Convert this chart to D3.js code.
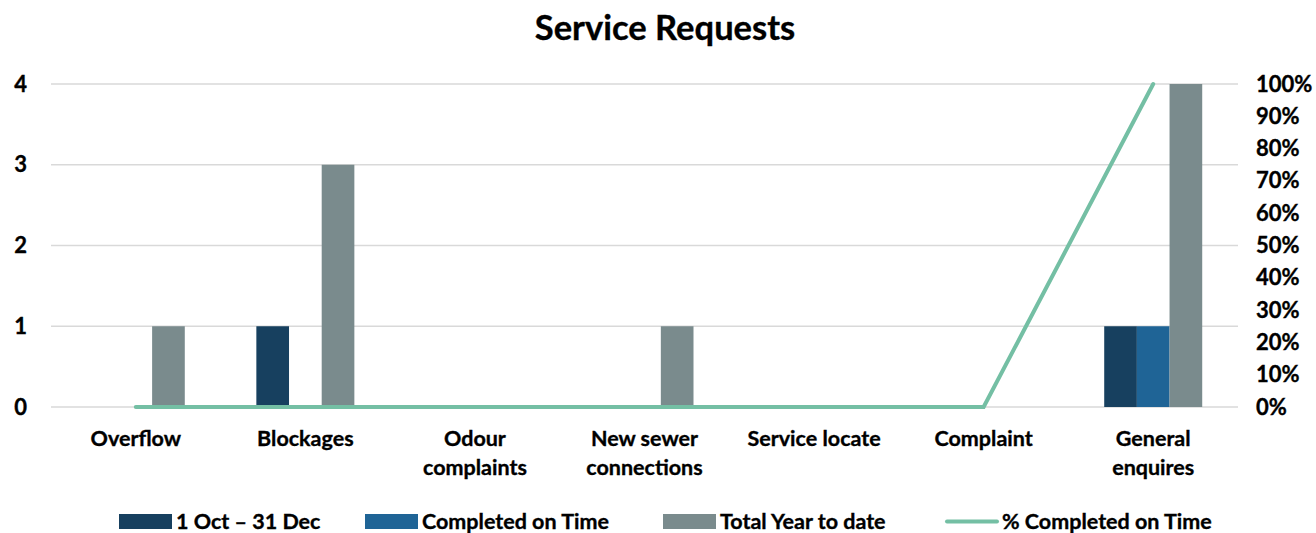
<!DOCTYPE html>
<html>
<head>
<meta charset="utf-8">
<script src="https://cdn.jsdelivr.net/npm/d3@7"></script>
<style>
  html, body { margin: 0; padding: 0; background: #fff; }
  svg { display: block; font-family: Lato, "Open Sans", sans-serif; font-weight: bold; }
  svg text { stroke: #000; stroke-width: 0.35px; }
</style>
</head>
<body>
<svg id="chart" width="1316" height="533"></svg>
<script>
// Service request categories (label lines)
const categories = [
  ["Overflow"],
  ["Blockages"],
  ["Odour", "complaints"],
  ["New sewer", "connections"],
  ["Service locate"],
  ["Complaint"],
  ["General", "enquires"]
];
const seriesNames = ["1 Oct \u2013 31 Dec", "Completed on Time", "Total Year to date", "% Completed on Time"];
const periodValues = [0, 1, 0, 0, 0, 0, 1];
const completedValues = [0, 0, 0, 0, 0, 0, 1];
const totalValues = [1, 3, 0, 1, 0, 0, 4];
const pctCompleted = [0, 0, 0, 0, 0, 0, 1];
const leftTicks = [0, 1, 2, 3, 4];
const rightTicks = [0, 0.1, 0.2, 0.3, 0.4, 0.5, 0.6, 0.7, 0.8, 0.9, 1];

const colors = ["#17405f", "#1f6496", "#7a8b8d", "#74bfa4"];

const svg = d3.select("#chart");
const plotLeft = 51, plotRight = 1238, plotTop = 84, plotBottom = 407;

const x = d3.scaleBand().domain(d3.range(categories.length)).range([plotLeft, plotRight]).paddingInner(0).paddingOuter(0);
const inner = d3.scaleBand().domain([0, 1, 2]).range([0, 98]);
const yL = d3.scaleLinear().domain([0, 4]).range([plotBottom, plotTop]);
const yR = d3.scaleLinear().domain([0, 1]).range([plotBottom, plotTop]);

// title
svg.append("text").attr("x", 665).attr("y", 40).attr("text-anchor", "middle")
  .attr("font-size", 34.5).attr("fill", "#000").text("Service Requests");

// gridlines
svg.append("g").selectAll("line").data(leftTicks).join("line")
  .attr("x1", plotLeft).attr("x2", plotRight)
  .attr("y1", d => yL(d)).attr("y2", d => yL(d))
  .attr("stroke", "#d9d9d9").attr("stroke-width", 1.3);

// left axis
const axL = svg.append("g").attr("transform", `translate(${plotLeft},0)`)
  .call(d3.axisLeft(yL).tickValues(leftTicks).tickFormat(d3.format("d")).tickSize(0).tickPadding(24));
axL.select(".domain").remove();
axL.selectAll("text").attr("font-size", 22).attr("font-family", "Lato, sans-serif").attr("font-weight", "bold").attr("fill", "#000");

// right axis
const axR = svg.append("g").attr("transform", `translate(${plotRight},0)`)
  .call(d3.axisRight(yR).tickValues(rightTicks).tickFormat(d3.format(".0%")).tickSize(0).tickPadding(18));
axR.select(".domain").remove();
axR.selectAll("text").attr("font-size", 22).attr("font-family", "Lato, sans-serif").attr("font-weight", "bold").attr("fill", "#000");

// bars
const seriesValues = [periodValues, completedValues, totalValues];
const barG = svg.append("g");
seriesValues.forEach((vals, s) => {
  barG.selectAll(null).data(vals).join("rect")
    .attr("x", (d, i) => x(i) + x.bandwidth() / 2 - 49 + inner(s))
    .attr("width", inner.bandwidth())
    .attr("y", d => yL(d))
    .attr("height", d => plotBottom - yL(d))
    .attr("fill", colors[s]);
});

// percentage line
const line = d3.line().x((d, i) => x(i) + x.bandwidth() / 2).y(d => yR(d));
svg.append("path").datum(pctCompleted).attr("d", line)
  .attr("fill", "none").attr("stroke", colors[3]).attr("stroke-width", 4).attr("stroke-linecap", "round");

// category labels
const catG = svg.append("g");
categories.forEach((lines, i) => {
  const t = catG.append("text").attr("x", x(i) + x.bandwidth() / 2).attr("y", 446)
    .attr("text-anchor", "middle").attr("font-size", 21.5).attr("fill", "#000");
  lines.forEach((l, j) => t.append("tspan").attr("x", x(i) + x.bandwidth() / 2).attr("dy", j === 0 ? 0 : 29).text(l));
});

// legend
const legendX = [119, 365, 663, 945];
const lg = svg.append("g");
seriesNames.forEach((name, i) => {
  if (i < 3) {
    lg.append("rect").attr("x", legendX[i]).attr("y", 514).attr("width", 53).attr("height", 15).attr("fill", colors[i]);
  } else {
    lg.append("line").attr("x1", legendX[i] + 2).attr("x2", legendX[i] + 52).attr("y1", 521.5).attr("y2", 521.5)
      .attr("stroke", colors[i]).attr("stroke-width", 4).attr("stroke-linecap", "round");
  }
  lg.append("text").attr("x", legendX[i] + 57).attr("y", 529).attr("font-size", 21.5).attr("fill", "#000").text(name);
});
</script>
</body>
</html>
